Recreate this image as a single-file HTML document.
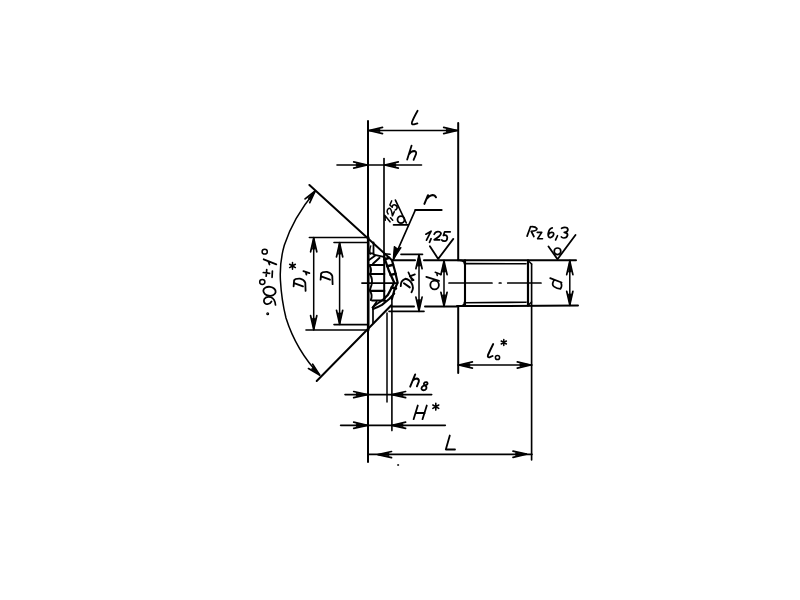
<!DOCTYPE html>
<html><head><meta charset="utf-8"><style>
html,body{margin:0;padding:0;background:#fff;width:800px;height:600px;overflow:hidden}
svg{display:block}
</style></head><body>
<svg width="800" height="600" viewBox="0 0 800 600" stroke="#000" stroke-linecap="round" stroke-linejoin="round" fill="none">
<line x1="368" y1="121" x2="368" y2="462" stroke-width="2.0"/>
<line x1="458.2" y1="123" x2="458.2" y2="260.3" stroke-width="2.0"/>
<line x1="368" y1="130.5" x2="458" y2="130.5" stroke-width="1.65"/>
<path d="M382.50,127.40 L369.00,130.50 L382.50,133.60" stroke-width="1.7" fill="none"/>
<path d="M369.00,130.50 L379.80,129.00 L379.80,132.00Z" stroke-width="0.8" fill="#000"/>
<path d="M443.70,133.60 L457.20,130.50 L443.70,127.40" stroke-width="1.7" fill="none"/>
<path d="M457.20,130.50 L446.40,132.00 L446.40,129.00Z" stroke-width="0.8" fill="#000"/>
<path d="M417.6,110.7 Q413.5,118 412,122 Q411.2,124.9 414,124.4 L417.4,123.4" stroke-width="1.8" fill="none"/>
<line x1="384" y1="158.5" x2="384" y2="253.5" stroke-width="1.65"/>
<line x1="384.2" y1="253.5" x2="384.2" y2="300.8" stroke-width="2.0"/>
<line x1="337" y1="165" x2="421.5" y2="165" stroke-width="1.65"/>
<path d="M353.70,168.10 L367.20,165.00 L353.70,161.90" stroke-width="1.7" fill="none"/>
<path d="M367.20,165.00 L356.40,166.50 L356.40,163.50Z" stroke-width="0.8" fill="#000"/>
<path d="M398.30,161.90 L384.80,165.00 L398.30,168.10" stroke-width="1.7" fill="none"/>
<path d="M384.80,165.00 L395.60,163.50 L395.60,166.50Z" stroke-width="0.8" fill="#000"/>
<path d="M411.6,145.6 L407.2,159.6 M408.8,154.5 Q411,151 414.2,151 Q416.8,151.5 416,154.2 L413.6,159.8" stroke-width="1.8" fill="none"/>
<line x1="309.4" y1="185" x2="392" y2="260.3" stroke-width="2.0"/>
<line x1="316.7" y1="381" x2="391.3" y2="305.3" stroke-width="2.0"/>
<path d="M315.2,191.2 Q293,218 284.3,245.3 Q279.5,262 280.4,280 Q281.5,300 286,318 Q296,350 319.6,375" stroke-width="1.5" fill="none"/>
<path d="M309.77,202.65 L315.20,191.00 L305.07,198.92" stroke-width="1.7" fill="none"/>
<path d="M315.20,191.00 L310.15,199.76 L307.80,197.89Z" stroke-width="0.8" fill="#000"/>
<path d="M308.50,368.52 L319.60,375.00 L312.65,364.19" stroke-width="1.7" fill="none"/>
<path d="M319.60,375.00 L311.34,369.16 L313.42,367.00Z" stroke-width="0.8" fill="#000"/>
<ellipse cx="262.3" cy="282" rx="2.6" ry="2.4" transform="rotate(0 262.3 282)" stroke-width="1.5" fill="none"/>
<ellipse cx="269.5" cy="291.3" rx="6.2" ry="4.5" transform="rotate(8 269.5 291.3)" stroke-width="1.8" fill="none"/>
<path d="M275.5,305 Q275,299 271,297.3 Q266.5,296 264.3,299 Q263,302.5 266,304 Q269.5,305 271.5,301.5" stroke-width="1.7" fill="none"/>
<ellipse cx="264.7" cy="251.7" rx="2.6" ry="2.4" transform="rotate(0 264.7 251.7)" stroke-width="1.5" fill="none"/>
<path d="M263.7,259.3 L276.3,264.3 M268.3,261.3 L269.5,264.5" stroke-width="1.8" fill="none"/>
<path d="M263.3,272.5 L269.6,273.4 M266.7,269.5 L266.2,276.2 M272.4,271 L272.1,277.3" stroke-width="1.7" fill="none"/>
<circle cx="267.7" cy="313.7" r="0.9" stroke-width="1.2" fill="none"/>
<line x1="309.4" y1="237.5" x2="368" y2="237.5" stroke-width="1.65"/>
<line x1="306" y1="330" x2="368" y2="330" stroke-width="1.65"/>
<line x1="313.7" y1="237.5" x2="313.7" y2="330" stroke-width="1.5"/>
<path d="M316.80,251.80 L313.70,238.30 L310.60,251.80" stroke-width="1.7" fill="none"/>
<path d="M313.70,238.30 L315.20,249.10 L312.20,249.10Z" stroke-width="0.8" fill="#000"/>
<path d="M310.60,315.70 L313.70,329.20 L316.80,315.70" stroke-width="1.7" fill="none"/>
<path d="M313.70,329.20 L312.20,318.40 L315.20,318.40Z" stroke-width="0.8" fill="#000"/>
<line x1="334" y1="242.5" x2="368" y2="242.5" stroke-width="1.65"/>
<line x1="334" y1="324.6" x2="368" y2="324.6" stroke-width="1.65"/>
<line x1="339.6" y1="242.5" x2="339.6" y2="324.6" stroke-width="1.5"/>
<path d="M342.70,256.80 L339.60,243.30 L336.50,256.80" stroke-width="1.7" fill="none"/>
<path d="M339.60,243.30 L341.10,254.10 L338.10,254.10Z" stroke-width="0.8" fill="#000"/>
<path d="M336.50,310.30 L339.60,323.80 L342.70,310.30" stroke-width="1.7" fill="none"/>
<path d="M339.60,323.80 L338.10,313.00 L341.10,313.00Z" stroke-width="0.8" fill="#000"/>
<path transform="translate(320.6,285) rotate(-90)" d="M8.3,1.2 L5.3,9.4 M5.3,0 L11.5,0.5 Q13.3,1.5 13.1,6.4 Q12.2,10.6 9,11.7 L0.8,12" stroke-width="1.8" fill="none"/>
<path transform="translate(293.6,291.7) rotate(-90)" d="M8.3,1.2 L5.3,9.4 M5.3,0 L11.5,0.5 Q13.3,1.5 13.1,6.4 Q12.2,10.6 9,11.7 L0.8,12" stroke-width="1.8" fill="none"/>
<path d="M303.4,271.1 L309.4,273.1 M305.8,272 L306.4,274.6" stroke-width="1.8" fill="none"/>
<path d="M292.50,269.20 L292.50,262.60 M289.64,267.55 L295.36,264.25 M289.64,264.25 L295.36,267.55 " stroke-width="1.5" fill="none"/>
<line x1="368.2" y1="237.5" x2="368.2" y2="330" stroke-width="2.6"/>
<line x1="373.5" y1="242.5" x2="373.5" y2="253.4" stroke-width="1.8"/>
<line x1="368.2" y1="253.4" x2="373.5" y2="253.4" stroke-width="1.8"/>
<line x1="373.5" y1="254.6" x2="383.8" y2="256.8" stroke-width="1.8"/>
<line x1="383.8" y1="253.7" x2="390" y2="254.3" stroke-width="1.6"/>
<line x1="369" y1="260" x2="375" y2="255.7" stroke-width="1.9"/>
<line x1="373" y1="263.7" x2="379.6" y2="257.8" stroke-width="1.9"/>
<path d="M392,260.3 L395,271.2 L397.6,282.5 L394.4,290 L391.9,299" stroke-width="2.2" fill="none"/>
<line x1="391.9" y1="298" x2="391.9" y2="430.6" stroke-width="1.6"/>
<path d="M384,256.5 L388.8,270.5 L394.2,282.5 L391.5,288 L387.8,295 L385,297.7" stroke-width="2.3" fill="none"/>
<line x1="384.3" y1="259.5" x2="389.2" y2="257.8" stroke-width="2.5"/>
<line x1="387.3" y1="266.3" x2="393" y2="264.8" stroke-width="2.5"/>
<line x1="390.6" y1="274.9" x2="395.6" y2="273.8" stroke-width="2.5"/>
<line x1="391.5" y1="287.5" x2="396" y2="288.5" stroke-width="2.5"/>
<path d="M385.2,297.7 Q381,301.5 377.5,303.5 Q374.5,305.5 372.6,307.6" stroke-width="1.9" fill="none"/>
<path d="M394.2,293.6 Q391,297 389.2,299 Q385,302.5 382,304.9 Q377.5,307.5 373,308.9" stroke-width="2.1" fill="none"/>
<line x1="376.6" y1="301.7" x2="372.6" y2="307.6" stroke-width="1.7"/>
<line x1="373" y1="308.9" x2="373" y2="323" stroke-width="1.7"/>
<line x1="370" y1="265" x2="383.8" y2="265" stroke-width="2.0"/>
<line x1="369.9" y1="273.9" x2="384.3" y2="273.9" stroke-width="2.0"/>
<line x1="370.8" y1="290.9" x2="384.3" y2="290.9" stroke-width="2.2"/>
<line x1="372" y1="300.4" x2="385.2" y2="300.4" stroke-width="2.0"/>
<path d="M370.7,246 Q369,251 370.5,254" stroke-width="1.4" fill="none"/>
<path d="M369.5,265.5 Q372,269 370.5,273.5 M370,274.5 Q373,279 371.5,285 Q370.5,288 369.8,290.5 M370.2,291.5 Q372.8,295 370.8,300" stroke-width="1.9" fill="none"/>
<line x1="362" y1="283.1" x2="397.6" y2="283.1" stroke-width="1.8"/>
<line x1="392" y1="260.3" x2="415" y2="260.3" stroke-width="2.0"/>
<line x1="424" y1="260.3" x2="458" y2="260.3" stroke-width="2.0"/>
<line x1="391.3" y1="306.6" x2="414" y2="306.6" stroke-width="2.0"/>
<line x1="425" y1="306.6" x2="457" y2="306.6" stroke-width="2.0"/>
<line x1="458.2" y1="306.3" x2="458.2" y2="373" stroke-width="2.0"/>
<line x1="401" y1="254.4" x2="422.5" y2="254.4" stroke-width="1.65"/>
<line x1="389" y1="311.4" x2="424" y2="311.4" stroke-width="1.65"/>
<line x1="419" y1="254.4" x2="419" y2="311.4" stroke-width="1.5"/>
<path d="M422.10,268.70 L419.00,255.20 L415.90,268.70" stroke-width="1.7" fill="none"/>
<path d="M419.00,255.20 L420.50,266.00 L417.50,266.00Z" stroke-width="0.8" fill="#000"/>
<path d="M415.90,297.10 L419.00,310.60 L422.10,297.10" stroke-width="1.7" fill="none"/>
<path d="M419.00,310.60 L417.50,299.80 L420.50,299.80Z" stroke-width="0.8" fill="#000"/>
<path d="M403.9,283.3 L409.8,287.4 M400.8,286.1 Q400.5,280.5 405.3,278.8 Q409.5,279.5 411.8,283.5 Q414.2,288 411.5,292.25" stroke-width="1.9" fill="none"/>
<path d="M408.4,272.3 L412.2,280.6 M414.9,274.4 L409.8,276.4 L413.6,280.2" stroke-width="1.7" fill="none"/>
<line x1="444" y1="260.3" x2="444" y2="306.6" stroke-width="1.5"/>
<path d="M447.10,274.60 L444.00,261.10 L440.90,274.60" stroke-width="1.7" fill="none"/>
<path d="M444.00,261.10 L445.50,271.90 L442.50,271.90Z" stroke-width="0.8" fill="#000"/>
<path d="M440.90,292.30 L444.00,305.80 L447.10,292.30" stroke-width="1.7" fill="none"/>
<path d="M444.00,305.80 L442.50,295.00 L445.50,295.00Z" stroke-width="0.8" fill="#000"/>
<path d="M426.3,276.8 L439,280.9" stroke-width="1.8" fill="none"/>
<circle cx="434.6" cy="285" r="4.3" stroke-width="1.8" fill="none"/>
<path d="M435.2,272.3 L441,274.5 M436.6,272.9 L437.3,275.6" stroke-width="1.5" fill="none"/>
<line x1="458" y1="260.3" x2="576" y2="260.3" stroke-width="2.0"/>
<line x1="457" y1="306.1" x2="578" y2="305.6" stroke-width="2.0"/>
<line x1="465" y1="260.3" x2="465" y2="305.6" stroke-width="2.1"/>
<line x1="464.6" y1="263.6" x2="526" y2="263.8" stroke-width="1.65"/>
<line x1="464.6" y1="302.8" x2="526" y2="302.2" stroke-width="1.65"/>
<line x1="528" y1="260.3" x2="528" y2="305.6" stroke-width="2.2"/>
<line x1="531.6" y1="264" x2="531.6" y2="460" stroke-width="1.65"/>
<line x1="528" y1="260.5" x2="531.6" y2="264" stroke-width="1.5"/>
<line x1="528" y1="305.5" x2="531.6" y2="302" stroke-width="1.5"/>
<path d="M459.5,260.3 Q464.6,260.3 464.6,264" stroke-width="1.7" fill="none"/>
<path d="M459.5,306.2 Q464.6,306.2 464.6,302" stroke-width="1.7" fill="none"/>
<line x1="449" y1="283" x2="492" y2="283" stroke-width="1.7"/>
<line x1="499.3" y1="283" x2="501" y2="283" stroke-width="1.7"/>
<line x1="507.7" y1="283" x2="541" y2="283" stroke-width="1.7"/>
<line x1="569.8" y1="260.3" x2="569.8" y2="305.6" stroke-width="1.5"/>
<path d="M572.90,274.60 L569.80,261.10 L566.70,274.60" stroke-width="1.7" fill="none"/>
<path d="M569.80,261.10 L571.30,271.90 L568.30,271.90Z" stroke-width="0.8" fill="#000"/>
<path d="M566.70,291.30 L569.80,304.80 L572.90,291.30" stroke-width="1.7" fill="none"/>
<path d="M569.80,304.80 L568.30,294.00 L571.30,294.00Z" stroke-width="0.8" fill="#000"/>
<path d="M550.2,278.1 L561.6,282.5 M553.7,280.7 Q551.5,285 554,286.6 Q557,288.8 560.4,288.9 Q562.5,286 561,282.5" stroke-width="1.7" fill="none"/>
<line x1="415.4" y1="209.9" x2="441.6" y2="209.9" stroke-width="2.0"/>
<line x1="415.4" y1="209.9" x2="393.5" y2="259.5" stroke-width="1.65"/>
<path d="M393.2,259.5 L394.3,246.6 L397.5,249 L401,247.6 Z" stroke-width="1.2" fill="#000"/>
<path d="M428,195.2 L424.4,203.9 M426.6,199 Q429.5,195.3 432.5,195 Q435,195 436,197.3" stroke-width="2.0" fill="none"/>
<line x1="395.4" y1="200.1" x2="406.3" y2="223" stroke-width="1.65"/>
<line x1="393.5" y1="224.9" x2="408" y2="224.9" stroke-width="1.65"/>
<circle cx="401" cy="219.6" r="3.5" stroke-width="1.8" fill="none"/>
<path transform="translate(389.8,222.3) rotate(-66) scale(0.84)" d="M0,-5.9 L5.2,-8.9 L0.6,0 M5.2,-1.4 L3.6,2.2 M8.3,-5.85 Q9.6,-8.6 12,-8.6 Q15.1,-8.3 15.1,-6.6 Q14.6,-4.1 8.3,-0.3 L13.8,-0.3 M24.3,-8.3 L18.8,-8.3 L17.5,-4.6 Q20.9,-5.9 21.4,-2.6 Q21.4,0.9 18.6,1.1 Q16.6,1.1 15.9,-0.1" stroke-width="1.8" fill="none"/>
<path d="M429.9,246.3 L438.2,258.9 L453.3,238.9" stroke-width="1.8" fill="none"/>
<path transform="translate(425.9,240.1)" d="M0,-5.9 L5.2,-8.9 L0.6,0 M5.2,-1.4 L3.6,2.2 M8.3,-5.85 Q9.6,-8.6 12,-8.6 Q15.1,-8.3 15.1,-6.6 Q14.6,-4.1 8.3,-0.3 L13.8,-0.3 M24.3,-8.3 L18.8,-8.3 L17.5,-4.6 Q20.9,-5.9 21.4,-2.6 Q21.4,0.9 18.6,1.1 Q16.6,1.1 15.9,-0.1" stroke-width="1.75" fill="none"/>
<path d="M548.5,246.5 L557.5,259.2 L575.5,235" stroke-width="1.8" fill="none"/>
<circle cx="557.5" cy="251.3" r="3.3" stroke-width="1.7" fill="none"/>
<path d="M530.5,226.75 L527.1,236.1 M530.5,226.75 Q535,226 536.9,228.6 Q537,231 531.25,231.25 L533.9,236.5" stroke-width="1.7" fill="none"/>
<path d="M537.25,232.4 L541.75,232.4 L537.6,238.75 L542.5,238.75" stroke-width="1.6" fill="none"/>
<path d="M552.25,227.9 Q549,228.5 548.1,234 Q548,237.6 550.5,237.6 Q553.3,237 553.75,234.2 Q553.5,232 551.5,232.4 Q549,233 548.6,234.5" stroke-width="1.7" fill="none"/>
<path d="M557.5,235.75 L555.6,239.9" stroke-width="1.7" fill="none"/>
<path d="M561.6,228.25 Q564.5,226.8 567,227.8 Q568.6,229.5 567.25,231.25 Q566,232.4 564.25,232.4 Q567.8,233 567.6,235 Q567,237.8 563.9,238 Q562,238 561.3,236.9" stroke-width="1.7" fill="none"/>
<line x1="458" y1="365" x2="532" y2="365" stroke-width="1.65"/>
<path d="M472.40,361.90 L458.90,365.00 L472.40,368.10" stroke-width="1.7" fill="none"/>
<path d="M458.90,365.00 L469.70,363.50 L469.70,366.50Z" stroke-width="0.8" fill="#000"/>
<path d="M517.30,368.10 L530.80,365.00 L517.30,361.90" stroke-width="1.7" fill="none"/>
<path d="M530.80,365.00 L520.00,366.50 L520.00,363.50Z" stroke-width="0.8" fill="#000"/>
<path d="M493.2,344 Q490,350.5 488,355 Q487.2,357.8 489.8,357.2 L492.6,356" stroke-width="1.9" fill="none"/>
<circle cx="497.5" cy="357.5" r="2.1" stroke-width="1.5" fill="none"/>
<path d="M503.80,345.50 L503.80,339.50 M501.20,344.00 L506.40,341.00 M501.20,341.00 L506.40,344.00 " stroke-width="1.5" fill="none"/>
<line x1="387" y1="313" x2="387" y2="402" stroke-width="1.5"/>
<line x1="345" y1="394.6" x2="431.7" y2="394.6" stroke-width="1.65"/>
<path d="M353.70,397.70 L367.20,394.60 L353.70,391.50" stroke-width="1.7" fill="none"/>
<path d="M367.20,394.60 L356.40,396.10 L356.40,393.10Z" stroke-width="0.8" fill="#000"/>
<path d="M405.60,391.50 L392.10,394.60 L405.60,397.70" stroke-width="1.7" fill="none"/>
<path d="M392.10,394.60 L402.90,393.10 L402.90,396.10Z" stroke-width="0.8" fill="#000"/>
<line x1="340.6" y1="425.3" x2="445.3" y2="425.3" stroke-width="1.65"/>
<path d="M353.70,428.40 L367.20,425.30 L353.70,422.20" stroke-width="1.7" fill="none"/>
<path d="M367.20,425.30 L356.40,426.80 L356.40,423.80Z" stroke-width="0.8" fill="#000"/>
<path d="M405.60,422.20 L392.10,425.30 L405.60,428.40" stroke-width="1.7" fill="none"/>
<path d="M392.10,425.30 L402.90,423.80 L402.90,426.80Z" stroke-width="0.8" fill="#000"/>
<path d="M415.2,374.4 L410.2,386.7 M412.6,380.5 Q414.5,378.5 417,378.5 Q419.3,379 418.8,381.6 L416.9,386.3" stroke-width="1.9" fill="none"/>
<path d="M424.6,385.2 Q423,384 424.8,382.4 Q427,381.5 427.6,383.2 Q427.5,385 424.8,385.4 Q427,386.3 426.3,388.7 Q425,390.5 422.8,390.2 Q420.8,389.3 421.8,387.3 Q422.8,385.8 424.8,385.4" stroke-width="1.8" fill="none"/>
<path d="M417.8,405.5 L413.6,419.2 M426.8,405.5 L422.5,419.2 M415.5,413 L424.8,413" stroke-width="1.8" fill="none"/>
<path d="M435.80,410.10 L435.80,403.30 M432.86,408.40 L438.74,405.00 M432.86,405.00 L438.74,408.40 " stroke-width="1.6" fill="none"/>
<line x1="368.8" y1="454.4" x2="532" y2="454.4" stroke-width="1.65"/>
<path d="M391.50,451.50 L378.00,454.60 L391.50,457.70" stroke-width="1.7" fill="none"/>
<path d="M378.00,454.60 L388.80,453.10 L388.80,456.10Z" stroke-width="0.8" fill="#000"/>
<path d="M513.00,457.30 L526.50,454.20 L513.00,451.10" stroke-width="1.7" fill="none"/>
<path d="M526.50,454.20 L515.70,455.70 L515.70,452.70Z" stroke-width="0.8" fill="#000"/>
<path d="M449.8,435.5 L445.8,449.5 L455,449.5" stroke-width="1.8" fill="none"/>
<circle cx="398" cy="465" r="0.6" stroke-width="0.8" fill="none"/>
</svg></body></html>
